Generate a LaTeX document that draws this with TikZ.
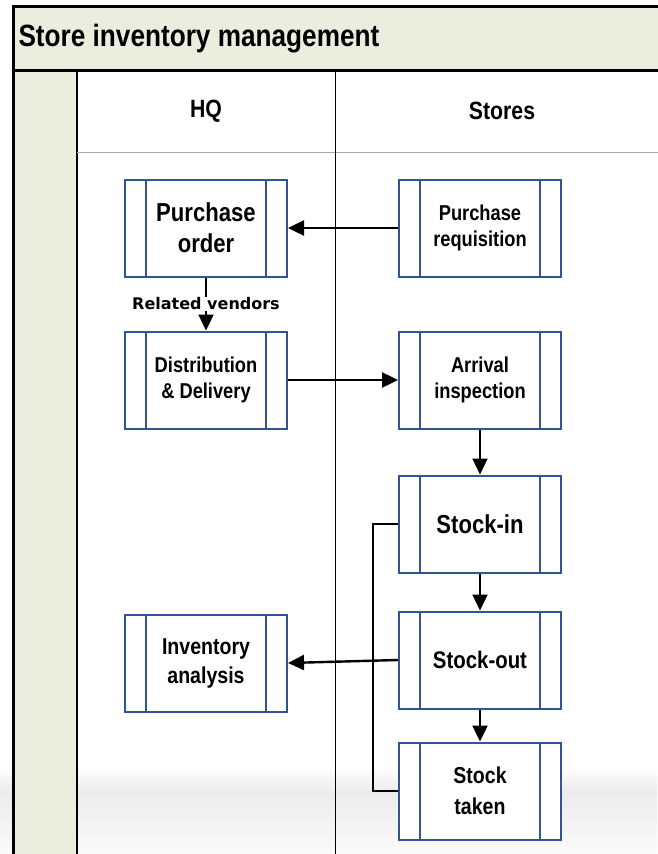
\documentclass[tikz,border=0pt]{standalone}
\usepackage{fontspec}
\setmainfont{Liberation Sans}[FakeStretch=0.85]
\newfontfamily\vendorfont{DejaVu Sans}
\usetikzlibrary{arrows.meta}
\definecolor{laneband}{HTML}{EBEEDE}
\definecolor{procblue}{HTML}{2F5596}

\begin{document}
\begin{tikzpicture}[x=1pt, y=-1pt,
  proc/.style={rectangle, draw=procblue, line width=2pt, fill=white,
              minimum width=162pt, minimum height=97pt,
              align=center, font=\bfseries\fontsize{21.5}{26}\selectfont,
              path picture={
                \draw[procblue, line width=2pt]
                  ([xshift=21pt]path picture bounding box.north west) -- ([xshift=21pt]path picture bounding box.south west)
                  ([xshift=-21pt]path picture bounding box.north east) -- ([xshift=-21pt]path picture bounding box.south east);}},
  bigproc/.style={proc, font=\bfseries\fontsize{26}{31}\selectfont},
  head/.style={font=\bfseries\fontsize{25}{30}\selectfont},
  flow/.style={line width=2.4pt, -{Triangle[length=16pt,width=15pt]}},
  link/.style={line width=2.4pt}
]
\useasboundingbox (0,0) rectangle (657,854);

% faint shadow at the foot
\shade[top color=white, bottom color=gray!15] (0,766) rectangle (657,792);
\shade[top color=gray!15, bottom color=gray!4] (0,792) rectangle (657,854);

% pool and lanes
\fill[laneband] (13,6) rectangle (660,70);
\fill[laneband] (13,70) rectangle (77,854);
\draw[line width=3pt] (13,854) -- (13,6) -- (660,6);
\draw[line width=3pt] (13,70) -- (660,70);
\draw[line width=2pt] (77,70) -- (77,854);
\draw[gray!70, line width=1pt] (77,152) -- (660,152);
\draw[line width=1pt] (335,70) -- (335,854);

\node[anchor=west, font=\bfseries\fontsize{30.8}{36}\selectfont] (title) at (15,39) {Store inventory management};
\node[head] (hq)     at (206,111) {HQ};
\node[head] (stores) at (502,111) {Stores};

% HQ lane
\node[bigproc] (po)   at (206,228) {Purchase\\order};
\node[proc]    (dist) at (206,380) {Distribution\\\& Delivery};
\node[proc, font=\bfseries\fontsize{23}{29}\selectfont] (inv) at (206,663) {Inventory\\analysis};

% Stores lane
\node[proc]    (req)   at (480,228) {Purchase\\requisition};
\node[proc]    (arr)   at (480,380) {Arrival\\inspection};
\node[bigproc] (sin)   at (480,524) {Stock-in};
\node[proc, font=\bfseries\fontsize{24}{29}\selectfont] (sout)  at (480,660) {Stock-out};
\node[proc, font=\bfseries\fontsize{23}{31}\selectfont] (stake) at (480,791) {Stock\\taken};

\draw[flow] (req) -- (po);
\draw[flow] (po) -- node[fill=white, inner sep=1pt, font=\vendorfont\bfseries\fontsize{16}{19}\selectfont] {Related vendors} (dist);
\draw[flow] (dist) -- (arr);
\draw[flow] (arr) -- (sin);
\draw[flow] (sin) -- (sout);
\draw[flow] (sout) -- (stake);
\draw[link] (sin.west) -- ++(-25,0) |- (stake.west);
\draw[flow] (sout.west) -- (inv.east);
\end{tikzpicture}
\end{document}
